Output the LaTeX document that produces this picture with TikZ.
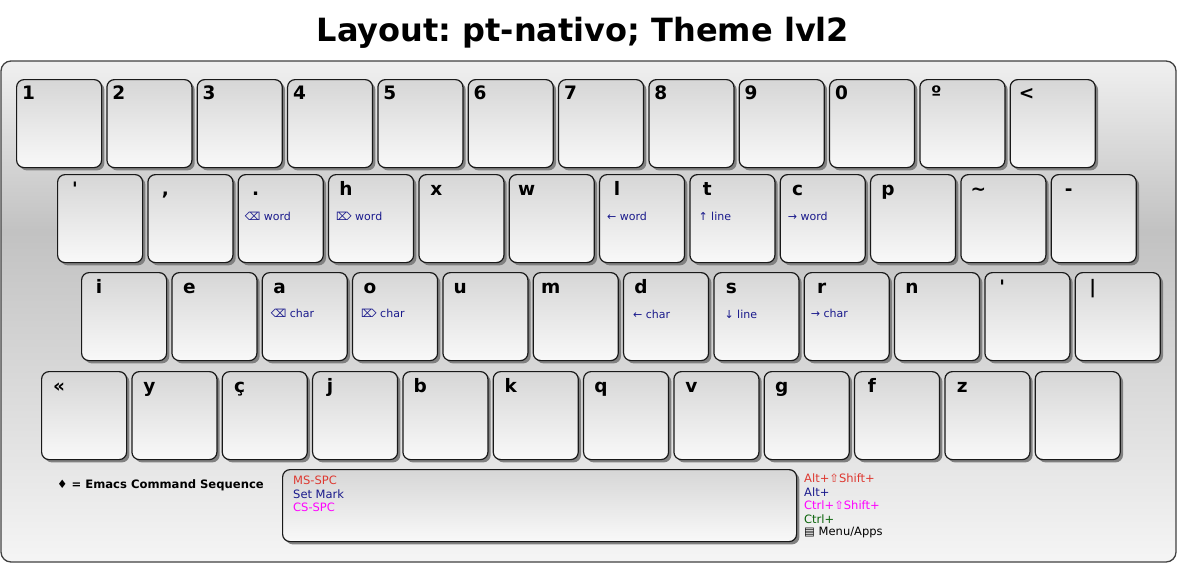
\documentclass[tikz,border=0pt]{standalone}
\usepackage{fontspec}
\newfontfamily\kf{DejaVu Sans}
\usetikzlibrary{calc,shadows}
\definecolor{navyc}{RGB}{26,26,140}
\definecolor{redc}{RGB}{222,56,48}
\definecolor{magc}{RGB}{255,0,255}
\definecolor{greenc}{RGB}{10,100,10}
\pgfdeclareverticalshading{kbdshade}{100bp}{color(0bp)=(black!4); color(25bp)=(black!4); color(58bp)=(black!24); color(75bp)=(black!6); color(100bp)=(black!6)}
\frenchspacing
\tikzset{
  keycap/.style={draw=black!90, line width=1.2pt, rounded corners=7.5pt,
    minimum width=85pt, minimum height=88pt, anchor=north west, inner sep=0pt,
    top color=black!16, bottom color=black!2.5,
    drop shadow={shadow xshift=2.8pt, shadow yshift=-2.8pt, fill=black!50, opacity=1}},
  lab/.style={font=\kf\bfseries\fontsize{18.5}{20}\selectfont, inner sep=0pt, anchor=base},
  sub/.style={font=\kf\fontsize{11}{12}\selectfont, text=navyc, inner sep=0pt, anchor=west},
  leg/.style={font=\kf\fontsize{11.5}{13}\selectfont, inner sep=0pt, anchor=base west},
}
\begin{document}
\begin{tikzpicture}[x=1pt,y=-1pt]
\useasboundingbox (0,0) rectangle (1177,563);
% title
\node[font=\kf\bfseries\fontsize{32}{36}\selectfont, inner sep=0pt, anchor=base] (title) at (583,41) {Layout: pt-nativo; Theme lvl2};
% keyboard body
\draw[rounded corners=10pt, draw=black!75, line width=1.3pt, shading=kbdshade] (1,61) rectangle (1176,562);
% row 1
\foreach \lab [count=\i from 0] in {1,2,3,4,5,6,7,8,9,0} {
  \node[keycap] (r1k\i) at (16+90.33*\i,79) {};
  \node[lab] at ($(r1k\i.north west)+(12.5,20)$) {\lab};
}
\foreach \lab [count=\i from 10] in {º,<} {
  \node[keycap] (r1k\i) at (16+90.33*\i,79) {};
  \node[lab] at ($(r1k\i.north west)+(17,20)$) {\lab};
}
% row 2
\foreach \lab [count=\i from 0] in {',{,},.,h,x,w,l,t,c,p,\textasciitilde,-} {
  \node[keycap] (r2k\i) at (57+90.33*\i,174) {};
  \node[lab] at ($(r2k\i.north west)+(18,21)$) {\lab};
}
% row 3
\foreach \lab [count=\i from 0] in {i,e,a,o,u,m,d,s,r,n,',|} {
  \node[keycap] (r3k\i) at (81+90.33*\i,272) {};
  \node[lab] at ($(r3k\i.north west)+(18,21)$) {\lab};
}
% row 4
\foreach \lab [count=\i from 0] in {«,y,ç,j,b,k,q,v,g,f,z,{}} {
  \node[keycap] (r4k\i) at (41+90.33*\i,371) {};
  \node[lab] at ($(r4k\i.north west)+(18,21)$) {\lab};
}
% sub labels
\node[sub] at ($(r2k2.north west)+(7,42)$) {⌫ word};
\node[sub] at ($(r2k3.north west)+(8,42)$) {⌦ word};
\node[sub] at ($(r2k6.north west)+(8,42)$) {← word};
\node[sub] at ($(r2k7.north west)+(9,42)$) {↑ line};
\node[sub] at ($(r2k8.north west)+(8,42)$) {→ word};
\node[sub] at ($(r3k2.north west)+(9,41)$) {⌫ char};
\node[sub] at ($(r3k3.north west)+(9,41)$) {⌦ char};
\node[sub] at ($(r3k6.north west)+(10,42)$) {← char};
\node[sub] at ($(r3k7.north west)+(11,42)$) {↓ line};
\node[sub] at ($(r3k8.north west)+(7,41)$) {→ char};
% spacebar
\node[keycap, minimum width=514pt, minimum height=72pt] (space) at (282,469) {};
\node[leg, text=redc] at ($(space.north west)+(11,15)$) {MS-SPC};
\node[leg, text=navyc] at ($(space.north west)+(11,29)$) {Set Mark};
\node[leg, text=magc] at ($(space.north west)+(11,42)$) {CS-SPC};
% legends
\node[leg, font=\kf\bfseries\fontsize{11.6}{13}\selectfont] (emacs) at (57,488) {♦ = Emacs Command Sequence};
\node[leg, text=redc] (l1) at (804,482) {Alt+⇧Shift+};
\node[leg, text=navyc] (l2) at (804,496) {Alt+};
\node[leg, text=magc] (l3) at (804,509) {Ctrl+⇧Shift+};
\node[leg, text=greenc] (l4) at (804,523) {Ctrl+};
\node[leg] (l5) at (804,535) {▤ Menu/Apps};
\end{tikzpicture}
\end{document}
